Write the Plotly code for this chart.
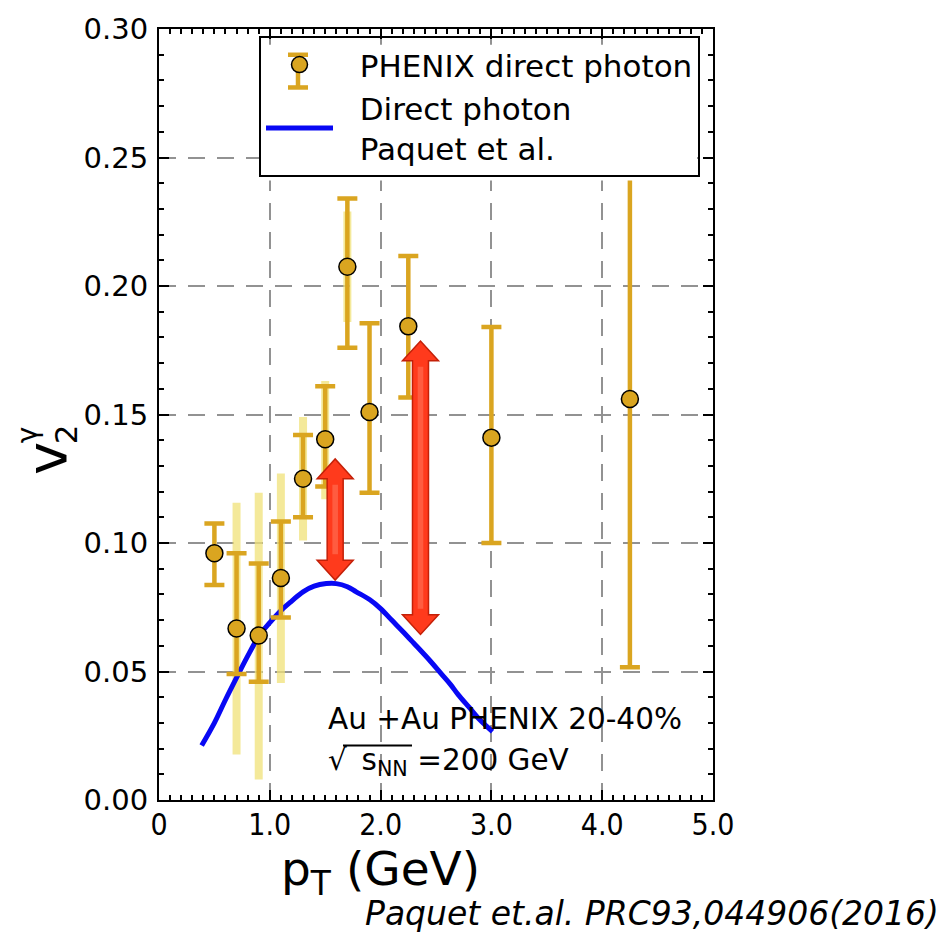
import plotly.graph_objects as go

# ---------------- data ----------------
pt = [0.5, 0.7, 0.9, 1.1, 1.3, 1.5, 1.7, 1.9, 2.25, 3.0, 4.25]
v2 = [0.096, 0.0667, 0.064, 0.0864, 0.125, 0.1404, 0.2075, 0.151, 0.1843, 0.141, 0.156]
err_hi = [0.0116, 0.0293, 0.028, 0.022, 0.017, 0.0206, 0.0265, 0.0345, 0.0274, 0.043, 0.104]
err_lo = [0.0123, 0.0177, 0.018, 0.0154, 0.015, 0.0184, 0.0315, 0.0314, 0.0277, 0.041, 0.1043]

sys_pt = [0.7, 0.9, 1.1, 1.3, 1.5, 1.7]
sys_v2 = [0.0667, 0.064, 0.0864, 0.125, 0.1404, 0.2075]
sys_hi = [0.049, 0.0556, 0.0406, 0.024, 0.0226, 0.0215]
sys_lo = [0.049, 0.056, 0.0409, 0.024, 0.0234, 0.0215]

theory_pt = [0.385, 0.5, 0.6, 0.7, 0.8, 0.91, 1.0, 1.12, 1.2, 1.3, 1.4, 1.51, 1.6, 1.7, 1.78, 1.9, 2.0,
             2.1, 2.2, 2.3, 2.45, 2.55, 2.63, 2.7, 2.8, 2.9, 3.01]
theory_v2 = [0.0212, 0.030, 0.039, 0.0476, 0.056, 0.0643, 0.069, 0.0745, 0.0775, 0.081, 0.0832, 0.0842,
             0.0842, 0.083, 0.081, 0.078, 0.0745, 0.070, 0.0656, 0.061, 0.054, 0.049, 0.045, 0.041,
             0.036, 0.031, 0.0266]

arrow_pt = [1.59, 2.36]
arrow_lo = [0.0856, 0.0644]
arrow_hi = [0.1327, 0.1786]

xtick_vals = [0, 1, 2, 3, 4, 5]
xtick_text = ["0", "1.0", "2.0", "3.0", "4.0", "5.0"]
ytick_vals = [0.0, 0.05, 0.10, 0.15, 0.20, 0.25, 0.30]
ytick_text = ["0.00", "0.05", "0.10", "0.15", "0.20", "0.25", "0.30"]

# ---------------- layout geometry ----------------
W, H = 951, 936
L, R, T, B = 159, 713, 22, 800


def px(x):
    return (x - L) / (R - L)


def py(y):
    return (B - y) / (B - T)


GOLD = "#DAA520"
KHAKI = "rgba(240,226,120,0.75)"
DEJAVU = "DejaVu Sans"
DEJAVU_C = "DejaVu Sans Condensed"

fig = go.Figure()

# systematic bars (light)
fig.add_trace(go.Scatter(
    x=sys_pt, y=sys_v2, mode="markers", marker=dict(size=0.1, color="rgba(0,0,0,0)"),
    error_y=dict(type="data", symmetric=False, array=sys_hi, arrayminus=sys_lo,
                 color=KHAKI, thickness=8, width=0),
    showlegend=False, hoverinfo="skip"))

# theory curve
fig.add_trace(go.Scatter(
    x=theory_pt, y=theory_v2, mode="lines", line=dict(color="#0808F4", width=5, shape="spline"),
    name="\u2002\u2009Direct photon<br>\u2002\u2009Paquet et al.", legendrank=2))

# data points
fig.add_trace(go.Scatter(
    x=pt, y=v2, mode="markers",
    marker=dict(size=17, color=GOLD, line=dict(color="black", width=1.5)),
    error_y=dict(type="data", symmetric=False, array=err_hi, arrayminus=err_lo,
                 color=GOLD, thickness=4.5, width=10),
    name="\u2002\u2009PHENIX direct photon", legendrank=1))

shapes = []

# white backing for the legend (legend itself is transparent so the glyph can sit on top)
shapes.append(dict(type="rect", xref="paper", yref="paper", x0=px(260), x1=px(697),
                   y0=py(38), y1=py(175), fillcolor="white", line=dict(width=0), layer="above"))

# red double arrows
hw = 18 / 110.8   # head half-width in pT units
sw = 8 / 110.8    # shaft half-width
hl = 20 / 2593    # head length in v2 units
for x, lo, hi in zip(arrow_pt, arrow_lo, arrow_hi):
    path = (f"M {x-hw},{hi-hl} L {x},{hi} L {x+hw},{hi-hl} L {x+sw},{hi-hl} "
            f"L {x+sw},{lo+hl} L {x+hw},{lo+hl} L {x},{lo} L {x-hw},{lo+hl} "
            f"L {x-sw},{lo+hl} L {x-sw},{hi-hl} Z")
    shapes.append(dict(type="path", path=path, xref="x", yref="y",
                       fillcolor="#FF3A1C", line=dict(color="#C42008", width=1.5), layer="above"))
    shapes.append(dict(type="rect", xref="x", yref="y", x0=x - sw * 0.35, x1=x + sw * 0.35,
                       y0=lo + hl * 1.3, y1=hi - hl * 1.3, fillcolor="rgba(255,120,95,0.55)",
                       line=dict(width=0), layer="above"))

# overline for sqrt
shapes.append(dict(type="line", xref="paper", yref="paper", x0=px(343), x1=px(412),
                   y0=py(745), y1=py(745), line=dict(color="black", width=2)))

# error-bar glyph for the legend marker
lx, ly0, ly1 = 298, 48, 81
shapes.append(dict(type="line", xref="paper", yref="paper", x0=px(lx), x1=px(lx),
                   y0=py(ly0), y1=py(ly1), line=dict(color=GOLD, width=4.5), layer="above"))
for yy in (ly0, ly1):
    shapes.append(dict(type="line", xref="paper", yref="paper", x0=px(lx - 10), x1=px(lx + 10),
                       y0=py(yy), y1=py(yy), line=dict(color=GOLD, width=4.5), layer="above"))

annotations = [
    dict(text="v", x=px(46), y=py(456), xref="paper", yref="paper", showarrow=False,
         textangle=-90, font=dict(family=DEJAVU, size=56, color="black"),
         xanchor="center", yanchor="middle"),
    dict(text="2", x=px(66), y=py(431), xref="paper", yref="paper", showarrow=False,
         textangle=-90, font=dict(family=DEJAVU, size=31, color="black"),
         xanchor="center", yanchor="middle"),
    dict(text="γ", x=px(27), y=py(432), xref="paper", yref="paper", showarrow=False,
         textangle=-90, font=dict(family=DEJAVU, size=28, color="black"),
         xanchor="center", yanchor="middle"),
    dict(text="Au +Au PHENIX 20-40%", x=px(326), y=py(718), xref="paper", yref="paper",
         showarrow=False, xanchor="left", yanchor="middle",
         font=dict(family=DEJAVU, size=29.5, color="black")),
    dict(text="√\u2002s<sub>NN</sub> =200 GeV", x=px(326), y=py(762), xref="paper",
         yref="paper", showarrow=False, xanchor="left", yanchor="middle",
         font=dict(family=DEJAVU, size=29.5, color="black")),
    dict(text="p<sub>T</sub> (GeV)", x=px(380), y=py(873), xref="paper", yref="paper",
         showarrow=False, xanchor="center", yanchor="middle",
         font=dict(family=DEJAVU, size=47, color="black")),
    dict(text="<i>Paquet et.al. PRC93,044906(2016)</i>", x=px(941), y=py(915), xref="paper",
         yref="paper", showarrow=False, xanchor="right", yanchor="middle",
         font=dict(family=DEJAVU, size=33, color="black")),
]

axis_common = dict(showline=True, linecolor="black", linewidth=2, mirror="allticks",
                   ticks="inside", ticklen=10, tickwidth=1.5, tickcolor="black",
                   showgrid=True, gridcolor="#929292", gridwidth=1.5, griddash="17px,12px",
                   zeroline=False)

fig.update_layout(
    width=W, height=H,
    margin=dict(l=L, r=W - R, t=T, b=H - B, pad=0),
    plot_bgcolor="white", paper_bgcolor="white",
    xaxis=dict(range=[0, 5], tickvals=xtick_vals, ticktext=xtick_text,
               tickfont=dict(family=DEJAVU_C, size=30, color="black"), ticklabelstandoff=-3,
               minor=dict(dtick=0.1, ticks="inside", ticklen=5, tickcolor="black", showgrid=False),
               **axis_common),
    yaxis=dict(range=[0, 0.30], tickvals=ytick_vals, ticktext=ytick_text,
               tickfont=dict(family=DEJAVU, size=29, color="black"), ticklabelstandoff=3,
               minor=dict(dtick=0.01, ticks="inside", ticklen=5, tickcolor="black", showgrid=False),
               **axis_common),
    legend=dict(x=px(259), y=py(29), xanchor="left", yanchor="top",
                bgcolor="rgba(0,0,0,0)", bordercolor="black", borderwidth=2,
                font=dict(family=DEJAVU, size=31, color="black"),
                itemwidth=67, tracegroupgap=0),
    shapes=shapes,
    annotations=annotations,
)

fig.write_html("out.html")
